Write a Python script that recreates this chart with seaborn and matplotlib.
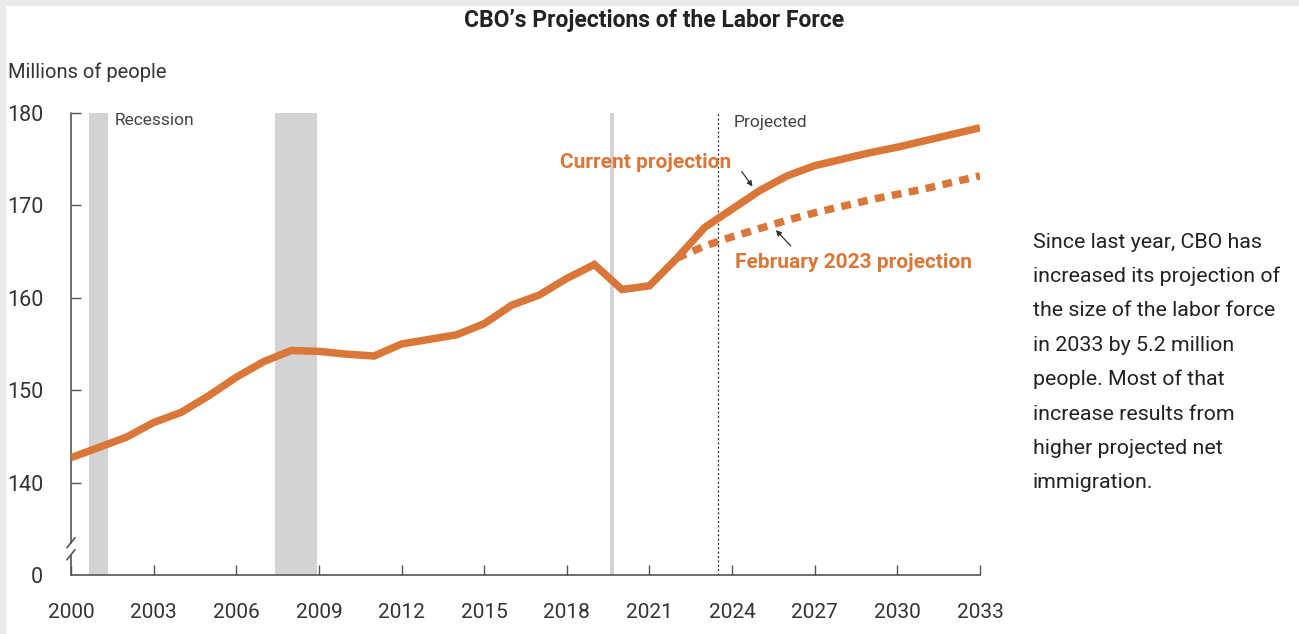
import numpy as np
import pandas as pd
import matplotlib
matplotlib.use("Agg")
import matplotlib.pyplot as plt
from matplotlib.patches import Rectangle
import seaborn as sns

# data (millions of people)
years = list(range(2000, 2034))
current = [142.7, 143.8, 144.9, 146.5, 147.6, 149.4, 151.4, 153.1, 154.3, 154.2,
           153.9, 153.7, 155.0, 155.5, 156.0, 157.2, 159.2, 160.3, 162.1, 163.6,
           160.9, 161.3, 164.3, 167.6, 169.6, 171.6, 173.2, 174.3, 175.0, 175.7,
           176.3, 177.0, 177.7, 178.4]
feb_years = list(range(2022, 2034))
feb2023 = [164.3, 165.6, 166.6, 167.5, 168.4, 169.2, 169.9, 170.6, 171.2, 171.8,
           172.5, 173.2]
recessions = [(2000.65, 2001.34), (2007.41, 2008.93), (2019.55, 2019.72)]
proj_start = 2023.49
yticks = [130, 140, 150, 160, 170, 180]
ylabels = ["0", "140", "150", "160", "170", "180"]
xticks = list(range(2000, 2034, 3))

orange = "#DA7637"
txt = "#333333"

sns.set_theme(style="white")
plt.rcParams['font.family'] = ['Roboto', 'DejaVu Sans']

fig = plt.figure(figsize=(12.99, 6.34), dpi=100)
fig.patch.set_facecolor("white")
fig.patches.append(Rectangle((0, 1 - 5/634), 1, 5/634, transform=fig.transFigure,
                             color="#ebebeb", zorder=0))
fig.patches.append(Rectangle((0, 0), 5/1299, 1, transform=fig.transFigure,
                             color="#ebebeb", zorder=0))

ax = fig.add_axes([71/1299, 59/634, 909/1299, 462/634])

for a, b in recessions:
    ax.axvspan(a, b, color="#d3d3d3", lw=0, zorder=0)
ax.axvline(proj_start, color="#222222", lw=0.9, ls=(0, (1.5, 2)), zorder=1)

cur_df = pd.DataFrame({"year": years, "value": current})
feb_df = pd.DataFrame({"year": feb_years, "value": feb2023})
sns.lineplot(data=feb_df, x="year", y="value", ax=ax, color=orange, lw=5.4,
             linestyle=(0, (1.3, 1.0)), zorder=3)
ax.lines[-1].set_dash_capstyle("butt")
sns.lineplot(data=cur_df, x="year", y="value", ax=ax, color=orange, lw=5.4,
             solid_capstyle="butt", solid_joinstyle="miter", zorder=4)

ax.set_xlim(2000, 2033)
ax.set_ylim(130, 180)
ax.set_xticks(xticks)
ax.set_yticks(yticks)
ax.set_yticklabels(ylabels)
ax.set_xlabel("")
ax.set_ylabel("")
ax.tick_params(axis="x", bottom=True, direction="in", length=7, width=1,
               color="#555555", labelsize=15, labelcolor=txt, pad=20)
ax.tick_params(axis="y", left=True, direction="in", length=7, width=1,
               color="#555555", labelsize=15.5, labelcolor=txt, pad=20)
ax.yaxis.get_major_ticks()[0].tick1line.set_visible(False)
for s in ["top", "right", "left"]:
    ax.spines[s].set_visible(False)
ax.spines["bottom"].set_color("#555555")
ax.spines["bottom"].set_linewidth(1.2)

# left axis with break
tr = ax.get_yaxis_transform()
ax.plot([0, 0], [133.5, 180], transform=tr, color="#555555", lw=1.2, clip_on=False)
ax.plot([0, 0], [130, 132.2], transform=tr, color="#555555", lw=1.2, clip_on=False)
for yb in [132.2, 133.5]:
    ax.plot([-0.0045, 0.0045], [yb - 0.55, yb + 0.55], transform=tr,
            color="#555555", lw=1.2, clip_on=False)

ax.text(2001.57, 179.2, "Recession", fontsize=12.5, color="#444444", va="center")
ax.text(2024.05, 179.0, "Projected", fontsize=12.5, color="#444444", va="center")

ax.text(2023.96, 174.6, "Current projection", fontsize=15, fontweight="bold",
        color=orange, ha="right", va="center")
ax.annotate("", xy=(2024.8, 171.8), xytext=(2024.29, 173.9),
            arrowprops=dict(arrowstyle="-|>", color="#333333", lw=0.9,
                            mutation_scale=8))
ax.text(2024.1, 163.8, "February 2023 projection", fontsize=15, fontweight="bold",
        color=orange, ha="left", va="center")
ax.annotate("", xy=(2025.52, 167.55), xytext=(2026.2, 165.4),
            arrowprops=dict(arrowstyle="-|>", color="#333333", lw=0.9,
                            mutation_scale=8))

fig.text(654/1299, 1 - 20/634, "CBO\u2019s Projections of the Labor Force",
         fontsize=16.5, fontweight="bold", color="#222222", ha="center", va="center")
fig.text(8/1299, 1 - 72/634, "Millions of people", fontsize=14.5, color=txt,
         ha="left", va="center")

side = ["Since last year, CBO has", "increased its projection of",
        "the size of the labor force", "in 2033 by 5.2 million",
        "people. Most of that", "increase results from",
        "higher projected net", "immigration."]
for i, line in enumerate(side):
    fig.text(1033/1299, 1 - (242 + i * 34.4)/634, line, fontsize=15.4,
             color="#222222", ha="left", va="center")

fig.savefig("out.png", dpi=100)
